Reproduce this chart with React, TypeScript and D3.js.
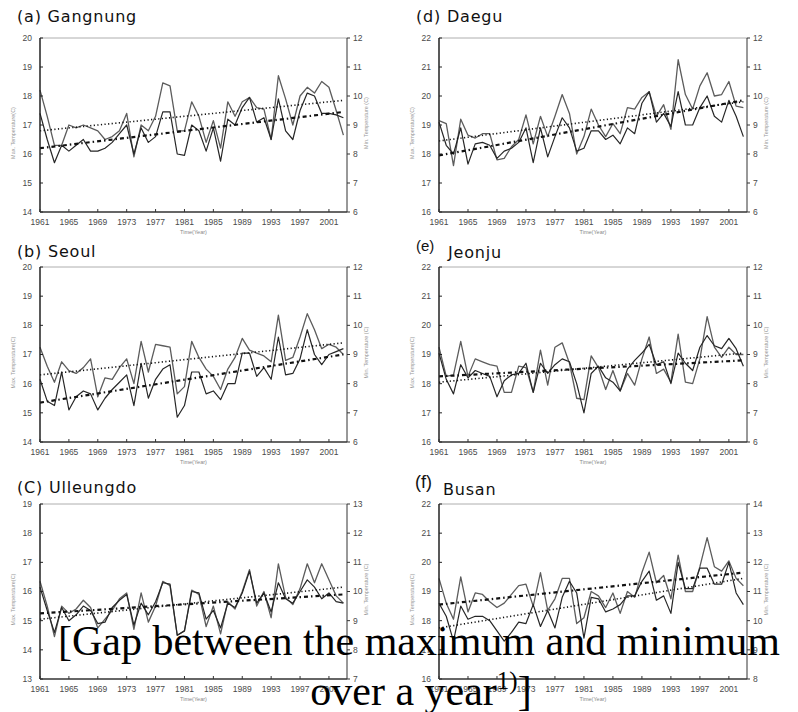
import * as d3 from "d3";

const YEARS = d3.range(1961, 2004);

// station order: (a) (d) / (b) (e) / (c) (f)
const TAGS = ["(a)", "(d)", "(b)", "(e)", "(C)", "(f)"];
const STATIONS = ["Gangnung", "Daegu", "Seoul", "Jeonju", "Ulleungdo", "Busan"];

// left axis (Max. Temperature) and right axis (Min. Temperature) ranges
const MAX_DOMAINS = [[14, 20], [16, 22], [14, 20], [16, 22], [13, 19], [16, 22]];
const MIN_DOMAINS = [[6, 12], [6, 12], [6, 12], [6, 12], [7, 13], [8, 14]];

const gangnungMax = [18.2, 17.3, 16.3, 16.3, 17.0, 16.9, 17.0, 16.9, 16.8, 16.5, 16.6, 16.8, 17.4, 15.9, 17.0, 16.8, 17.3, 18.45, 18.35, 16.8, 16.8, 17.8, 17.3, 16.4, 17.15, 16.2, 17.8, 17.3, 17.8, 17.95, 17.6, 17.55, 16.5, 18.7, 17.9, 17.0, 18.0, 18.3, 18.1, 18.5, 18.3, 17.5, 16.65];
const gangnungMin = [9.4, 8.5, 7.7, 8.3, 8.1, 8.3, 8.5, 8.1, 8.1, 8.2, 8.4, 8.7, 9.0, 8.0, 8.9, 8.4, 8.6, 9.45, 9.45, 8.0, 7.95, 9.0, 8.8, 8.1, 8.9, 7.75, 9.2, 9.0, 9.6, 9.95, 9.1, 9.25, 8.5, 9.9, 8.8, 8.5, 9.5, 10.1, 10.0, 9.4, 9.4, 9.35, 9.25];

const daeguMax = [19.15, 19.05, 17.6, 19.2, 18.65, 18.55, 18.7, 18.7, 17.8, 17.85, 18.25, 18.5, 19.35, 18.35, 19.3, 18.6, 19.3, 20.05, 19.4, 18.0, 18.6, 19.55, 19.0, 18.6, 19.05, 18.7, 19.6, 19.55, 19.95, 20.15, 19.3, 19.7, 18.85, 21.25, 20.05, 19.55, 20.35, 20.8, 20.0, 20.05, 20.5, 19.65, 19.6];
const daeguMin = [9.1, 8.3, 8.0, 8.9, 7.65, 8.35, 8.4, 8.3, 7.85, 8.1, 8.2, 8.4, 8.9, 7.7, 8.9, 7.9, 8.6, 9.25, 8.9, 8.1, 8.2, 8.8, 8.8, 8.5, 8.65, 8.35, 8.9, 8.7, 9.75, 10.15, 9.1, 9.4, 8.95, 10.15, 9.0, 9.0, 9.6, 10.0, 9.3, 9.1, 9.85, 9.3, 8.6];

const seoulMax = [17.25, 16.6, 16.05, 16.75, 16.45, 16.35, 16.55, 16.85, 15.55, 16.2, 16.15, 16.55, 16.85, 16.0, 17.45, 16.4, 17.35, 17.3, 17.25, 15.65, 15.9, 17.45, 16.9, 16.5, 16.25, 15.8, 16.5, 16.9, 17.55, 17.15, 17.05, 16.95, 16.75, 18.35, 16.8, 16.9, 17.6, 18.4, 17.85, 17.2, 17.35, 17.25, 17.0];
const seoulMin = [8.15, 7.4, 7.25, 8.4, 7.1, 7.55, 7.75, 7.65, 7.1, 7.5, 7.8, 8.05, 8.3, 7.25, 8.7, 7.5, 8.15, 8.5, 8.65, 6.85, 7.25, 8.4, 8.4, 7.65, 7.75, 7.45, 8.0, 8.0, 9.05, 9.05, 8.25, 8.55, 8.15, 9.6, 8.3, 8.35, 8.85, 9.85, 9.0, 8.65, 9.0, 9.1, 9.2];

const jeonjuMax = [19.25, 18.25, 18.3, 19.45, 18.25, 18.85, 18.75, 18.65, 18.6, 17.7, 17.7, 18.6, 18.55, 17.7, 19.15, 17.95, 19.25, 19.4, 18.7, 17.5, 17.45, 18.95, 18.55, 17.8, 18.45, 17.75, 18.35, 17.95, 18.85, 19.6, 18.35, 18.5, 18.05, 19.7, 18.05, 18.0, 18.85, 20.3, 19.25, 18.9, 19.25, 19.0, 19.0];
const jeonjuMin = [9.05, 8.15, 7.65, 8.65, 8.2, 8.45, 8.35, 8.25, 7.55, 8.1, 8.3, 8.35, 8.7, 7.7, 8.7, 8.35, 8.65, 8.85, 8.75, 8.0, 7.0, 8.35, 8.6, 8.2, 8.05, 7.75, 8.5, 8.8, 9.05, 9.35, 8.65, 8.75, 8.0, 9.05, 8.7, 8.45, 9.25, 9.65, 9.3, 9.2, 9.55, 9.2, 8.6];

const ulleungdoMax = [16.35, 15.5, 14.45, 15.5, 15.25, 15.4, 15.7, 15.45, 14.75, 15.05, 15.35, 15.75, 15.95, 14.7, 15.95, 14.95, 15.5, 16.35, 16.2, 14.5, 14.65, 16.05, 15.9, 14.8, 15.5, 14.55, 15.65, 15.4, 16.0, 16.75, 15.5, 16.0, 15.1, 16.95, 15.8, 15.55, 16.1, 16.95, 16.3, 16.95, 16.4, 15.85, 15.6];
const ulleungdoMin = [10.15, 9.35, 8.6, 9.45, 9.0, 9.2, 9.5, 9.35, 8.9, 8.95, 9.45, 9.7, 9.9, 8.85, 9.6, 9.2, 9.65, 10.3, 10.25, 8.5, 8.65, 10.0, 9.95, 9.05, 9.35, 8.75, 9.6, 9.45, 9.95, 10.7, 9.6, 9.95, 9.3, 10.3, 9.75, 9.6, 10.0, 10.4, 10.15, 9.75, 9.95, 9.65, 9.6];

const busanMax = [19.45, 18.6, 18.05, 19.5, 18.3, 18.95, 18.9, 18.65, 18.45, 18.6, 18.9, 19.2, 19.25, 18.5, 19.65, 18.35, 18.75, 19.45, 19.45, 17.9, 18.1, 19.0, 18.85, 18.45, 18.95, 18.25, 19.0, 18.8, 19.65, 20.35, 19.3, 19.55, 18.75, 20.25, 19.0, 19.0, 19.85, 20.85, 19.85, 19.7, 20.05, 19.45, 19.2];
const busanMin = [10.6, 10.15, 9.3, 10.5, 10.05, 10.15, 10.15, 10.0, 9.65, 9.3, 9.6, 9.95, 9.9, 10.55, 9.8, 10.35, 9.75, 10.8, 11.35, 10.95, 9.4, 10.8, 10.75, 10.3, 10.4, 10.55, 10.85, 10.85, 11.35, 11.7, 10.7, 10.85, 10.25, 12.0, 11.1, 11.1, 11.8, 11.8, 11.25, 11.25, 12.0, 10.95, 10.55];

// linear trend end values (1961, 2003)
const MAX_TRENDS = [[16.8, 17.85], [18.45, 19.8], [16.3, 17.4], [18.05, 19.05], [15.05, 16.15], [17.75, 19.45]];
const MIN_TRENDS = [[8.2, 9.45], [7.95, 9.85], [7.35, 9.0], [8.25, 8.8], [9.25, 9.9], [10.55, 11.65]];

const MAX_SERIES = [gangnungMax, daeguMax, seoulMax, jeonjuMax, ulleungdoMax, busanMax];
const MIN_SERIES = [gangnungMin, daeguMin, seoulMin, jeonjuMin, ulleungdoMin, busanMin];

const YEAR_TICKS = d3.range(1961, 2004, 4);

const COLS = [{ left: 40, right: 347 }, { left: 439, right: 747 }];
const ROWS = [{ top: 38, bottom: 212 }, { top: 267, bottom: 442 }, { top: 504, bottom: 679 }];
const TITLE_Y = [22, 257, 493];

const sans = "'Liberation Sans', Arial, sans-serif";

function Title({ i, x, y }: { i: number; x: number; y: number }) {
  if (i === 3) {
    return (
      <g>
        <text x={x} y={y - 6} fontSize={15} fontFamily={sans} fill="#111">{TAGS[i]}</text>
        <text x={x + 32} y={y + 1} fontSize={16} letterSpacing={0.8} fontFamily="'DejaVu Sans', sans-serif" fill="#111">{STATIONS[i]}</text>
      </g>
    );
  }
  if (i === 5) {
    return (
      <g>
        <text x={x - 1} y={y - 5} fontSize={18} fontFamily={sans} fill="#111">{TAGS[i]}</text>
        <text x={x + 27} y={y + 2} fontSize={16} letterSpacing={0.8} fontFamily="'DejaVu Sans', sans-serif" fill="#111">{STATIONS[i]}</text>
      </g>
    );
  }
  return (
    <text x={x} y={y} fontSize={16} letterSpacing={0.8} fontFamily="'DejaVu Sans', sans-serif" fill="#111">
      {TAGS[i]} {STATIONS[i]}
    </text>
  );
}

function Panel({ i }: { i: number }) {
  const col = COLS[i % 2];
  const row = ROWS[Math.floor(i / 2)];
  const x = d3.scaleLinear().domain([1961, 2003.5]).range([col.left, col.right]);
  const yMax = d3.scaleLinear().domain(MAX_DOMAINS[i]).range([row.bottom, row.top]);
  const yMin = d3.scaleLinear().domain(MIN_DOMAINS[i]).range([row.bottom, row.top]);

  const lineMax = d3.line<number>().x((_, k) => x(YEARS[k])).y((d) => yMax(d));
  const lineMin = d3.line<number>().x((_, k) => x(YEARS[k])).y((d) => yMin(d));
  const ends = [YEARS[0], YEARS[YEARS.length - 1]];
  const trendMax = d3.line<number>().x((_, k) => x(ends[k])).y((d) => yMax(d));
  const trendMin = d3.line<number>().x((_, k) => x(ends[k])).y((d) => yMin(d));

  const maxTicks = d3.range(MAX_DOMAINS[i][0], MAX_DOMAINS[i][1] + 1);
  const minTicks = d3.range(MIN_DOMAINS[i][0], MIN_DOMAINS[i][1] + 1);
  const midY = (row.top + row.bottom) / 2;

  return (
    <g>
      <Title i={i} x={i % 2 === 0 ? 17 : 416} y={TITLE_Y[Math.floor(i / 2)]} />

      {/* frame */}
      <line x1={col.left} x2={col.right} y1={row.top} y2={row.top} stroke="#999" strokeWidth={0.8} />
      <line x1={col.right} x2={col.right} y1={row.top} y2={row.bottom} stroke="#333" strokeWidth={1} />

      {/* series */}
      <path d={lineMax(MAX_SERIES[i]) || ""} fill="none" stroke="#5c5c5c" strokeWidth={1.3} strokeLinejoin="round" />
      <path d={lineMin(MIN_SERIES[i]) || ""} fill="none" stroke="#262626" strokeWidth={1.2} strokeLinejoin="round" />

      {/* trends */}
      <path d={trendMax(MAX_TRENDS[i]) || ""} fill="none" stroke="#111" strokeWidth={1.6} strokeDasharray="1.2,2.4" />
      <path d={trendMin(MIN_TRENDS[i]) || ""} fill="none" stroke="#111" strokeWidth={2.2} strokeDasharray="4,3,1.5,3" />

      {/* left axis */}
      <line x1={col.left} x2={col.left} y1={row.top} y2={row.bottom} stroke="#222" strokeWidth={1.5} />
      {maxTicks.map((t) => (
        <g key={"l" + t}>
          <line x1={col.left} x2={col.left + 3} y1={yMax(t)} y2={yMax(t)} stroke="#222" />
          <text x={col.left - 8} y={yMax(t)} dy="0.35em" textAnchor="end" fontSize={8.5} fontFamily={sans} fill="#4a4a4a">{t}</text>
        </g>
      ))}
      <text transform={`translate(${col.left - 25},${midY + 8}) rotate(-90)`} textAnchor="middle" fontSize={5.5} fontFamily={sans} fill="#999">Max. Temperature(C)</text>

      {/* right axis */}
      {minTicks.map((t) => (
        <g key={"r" + t}>
          <line x1={col.right} x2={col.right + 3} y1={yMin(t)} y2={yMin(t)} stroke="#333" />
          <text x={col.right + 6} y={yMin(t)} dy="0.35em" fontSize={8.5} fontFamily={sans} fill="#4a4a4a">{t}</text>
        </g>
      ))}
      <text transform={`translate(${col.right + 21},${midY - 2}) rotate(-90)`} textAnchor="middle" fontSize={5.5} fontFamily={sans} fill="#999">Min. Temperature (C)</text>

      {/* bottom axis */}
      <line x1={col.left} x2={col.right} y1={row.bottom} y2={row.bottom} stroke="#333" strokeWidth={1.5} />
      {YEAR_TICKS.map((yr) => (
        <g key={"x" + yr}>
          <line x1={x(yr)} x2={x(yr)} y1={row.bottom} y2={row.bottom - 3} stroke="#333" />
          <text x={x(yr)} y={row.bottom + 13} textAnchor="middle" fontSize={8.5} fontFamily={sans} fill="#4a4a4a">{yr}</text>
        </g>
      ))}
      <text x={(col.left + col.right) / 2} y={row.bottom + 22} textAnchor="middle" fontSize={5.5} fontFamily={sans} fill="#888">Time(Year)</text>
    </g>
  );
}

export default function App() {
  return (
    <div style={{ position: "absolute", left: 0, top: 0 }}>
      <svg width={798} height={712} style={{ display: "block", background: "#fff" }}>
        {STATIONS.map((_, i) => (
          <Panel key={i} i={i} />
        ))}
        <g fontFamily="'Liberation Serif', 'Times New Roman', serif" fill="#000" textAnchor="middle">
          <text x={419} y={655} fontSize={42}>[Gap between the maximum and minimum</text>
          <text x={421} y={705} fontSize={42}>
            over a year<tspan fontSize={25} dy={-16}>1)</tspan><tspan dy={16}>]</tspan>
          </text>
        </g>
      </svg>
    </div>
  );
}
